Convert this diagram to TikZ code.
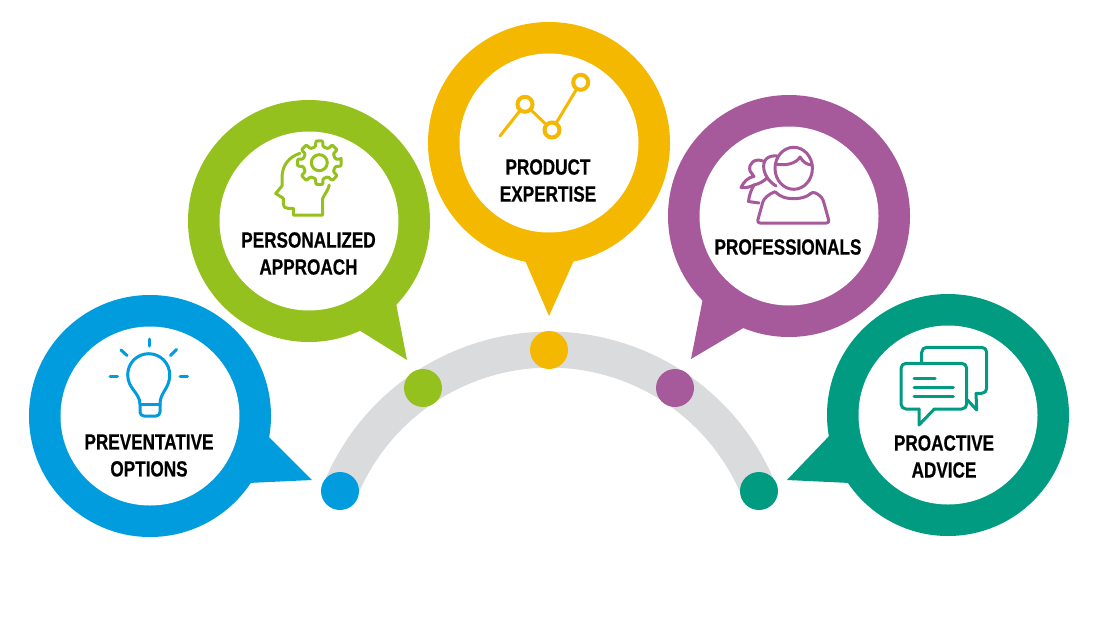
\documentclass[tikz,border=0pt]{standalone}
\usepackage{fontspec}
\setmainfont[FakeStretch=0.78,BoldFeatures={FakeBold=0.5}]{Liberation Sans}
\definecolor{cblue}{HTML}{009CDE}
\definecolor{cgreen}{HTML}{95C11F}
\definecolor{cyellow}{HTML}{F4B800}
\definecolor{cpurple}{HTML}{A65A9C}
\definecolor{cteal}{HTML}{009B80}
\definecolor{ctrack}{HTML}{DADBDD}

\begin{document}
\begin{tikzpicture}[x=1pt,y=-1pt]
	\tikzstyle{ring}=[circle,minimum size=242pt,inner sep=0pt]
	\tikzstyle{hole}=[circle,fill=white,minimum size=179pt,inner sep=0pt]
	\tikzstyle{dot}=[circle,minimum size=38pt,inner sep=0pt]
	\tikzstyle{track}=[draw=ctrack,line width=36pt]
	\tikzstyle{icon}=[line width=3pt,line join=round,line cap=round,fill=none]
	\tikzstyle{chartdot}=[circle,draw=cyellow,line width=4pt,minimum size=15pt,inner sep=0pt]
	\tikzstyle{label}=[align=center,font=\fontsize{22}{27}\selectfont\bfseries,inner sep=0pt]

	\useasboundingbox (0,0) rectangle (1102,629);

	\coordinate (trackstart) at (340,491);
	\draw[track] (trackstart) arc[start angle=202,end angle=338,radius=226];

	\node[ring,fill=cblue] (blue) at (150,416) {};
	\node[ring,fill=cgreen] (green) at (309,221) {};
	\node[ring,fill=cyellow] (yellow) at (549,143) {};
	\node[ring,fill=cpurple] (purple) at (789,216) {};
	\node[ring,fill=cteal] (teal) at (948,415) {};

	\fill[cblue] (266,434) -- (312,480) -- (248,483) -- cycle;
	\fill[cgreen] (395,298) -- (407,360) -- (354,327) -- cycle;
	\fill[cyellow] (524,258) -- (549,316) -- (575,258) -- cycle;
	\fill[cpurple] (703,298) -- (691,359) -- (745,327) -- cycle;
	\fill[cteal] (831,434) -- (787,480) -- (850,483) -- cycle;

	\node[hole] (bluehole) at (150,416) {};
	\node[hole] (greenhole) at (309,221) {};
	\node[hole] (yellowhole) at (549,143) {};
	\node[hole] (purplehole) at (789,216) {};
	\node[hole] (tealhole) at (948,415) {};

	\node[dot,fill=cblue] (bluedot) at (340,491) {};
	\node[dot,fill=cgreen] (greendot) at (423,388) {};
	\node[dot,fill=cyellow] (yellowdot) at (549,350) {};
	\node[dot,fill=cpurple] (purpledot) at (675,388) {};
	\node[dot,fill=cteal] (tealdot) at (759,491) {};

	\node[label] (bluetext) at (149,455.5) {PREVENTATIVE\\OPTIONS};
	\node[label] (greentext) at (308.5,253.5) {PERSONALIZED\\APPROACH};
	\node[label] (yellowtext) at (548,180.5) {PRODUCT\\EXPERTISE};
	\node[label] (purpletext) at (788,247) {PROFESSIONALS};
	\node[label] (tealtext) at (944,456.5) {PROACTIVE\\ADVICE};

	\begin{scope}[icon,draw=cblue]
		\draw (149,339) -- (149,346);
		\draw (121,350) -- (127,355.5);
		\draw (176.5,349.5) -- (170.5,355.5);
		\draw (110,376) -- (117.5,376);
		\draw (180,376) -- (187.5,376);
		\draw[rounded corners=4pt] (140,404) -- (140,416) -- (160,416) -- (160,404);
		\draw (140,404) .. controls (139.5,392) and (127.7,389) .. (127.7,374.7) arc[start angle=180,end angle=360,radius=21] .. controls (169.7,389) and (160,392) .. (160,404);
		\draw (140,404) -- (160,404);
	\end{scope}

	\begin{scope}[icon,draw=cgreen]
		\draw (300,153.3) .. controls (289,157) and (282,165) .. (282,178) -- (282,186) -- (275.7,193.5) -- (283.3,198.3) -- (283.3,204) .. controls (283.3,207) and (285,208.3) .. (288,208.3) -- (293.3,208.3) -- (293.3,215) -- (322.7,215) -- (322.7,198.3) .. controls (325,194) and (328,190) .. (329.3,185);
		\draw[shift={(319.3,162.7)},rounded corners=1pt] (-9:22) \foreach \a in {0,45,...,315} {-- (\a-9:22) -- (\a+9:22) -- (\a+13:16.5) -- (\a+32:16.5)} -- cycle;
		\node[circle,draw=cgreen,line width=3pt,minimum size=16pt,inner sep=0pt] (gearhub) at (319.3,162.7) {};
	\end{scope}

	\node[chartdot] (chartb) at (525,104.3) {};
	\node[chartdot] (chartc) at (552,130) {};
	\node[chartdot] (chartd) at (580.7,82.3) {};
	\coordinate (charta) at (500,136);
	\draw[icon,draw=cyellow] (charta) -- (chartb);
	\draw[icon,draw=cyellow] (chartb) -- (chartc);
	\draw[icon,draw=cyellow] (chartc) -- (chartd);

	\begin{scope}[icon,draw=cpurple]
		\draw (793.7,168.3) ellipse[x radius=18.7,y radius=21];
		\draw (775.3,164) .. controls (785,166) and (796,164) .. (800,157) .. controls (803,162) and (807,165) .. (812.3,165);
		\draw[rounded corners=3pt] (775,191.7) .. controls (780,197) and (787,198.5) .. (793.5,198.5) .. controls (800,198.5) and (807,197) .. (812.3,191.7) .. controls (818,194) and (822,197) .. (824,203) -- (829.5,223) -- (757,223) -- (762,205) .. controls (764,198) and (769,194) .. (775,191.7);
		\draw (777,156) .. controls (768,155) and (762,160) .. (764,170) .. controls (766,178) and (770,182) .. (776,186);
		\draw (763,161) .. controls (755,158) and (748,163) .. (750,171) -- (754,176.5) .. controls (749,177) and (744,181) .. (741,187.5) .. controls (746,188) and (750,187) .. (754,185) .. controls (751,190) and (749,196) .. (748.5,201.5) -- (759,203);
		\draw (754,185) .. controls (759,184) and (764,181) .. (767,178);
	\end{scope}

	\begin{scope}[icon,draw=cteal]
		\draw[rounded corners=5pt] (921.7,363) -- (921.7,347.3) -- (986.7,347.3) -- (986.7,393.3) -- (976,393.3);
		\draw (976,393.3) -- (976.7,410) -- (967.5,400);
		\draw[rounded corners=5pt] (934.3,409) -- (966.7,409) -- (966.7,363.3) -- (901,363.3) -- (901,409) -- (919,409);
		\draw (919,409) -- (919,425) -- (934.3,409);
		\draw (914,378.3) -- (935,378.3);
		\draw (914,387) -- (953.3,387);
		\draw (914,396) -- (953.3,396);
	\end{scope}
\end{tikzpicture}
\end{document}
